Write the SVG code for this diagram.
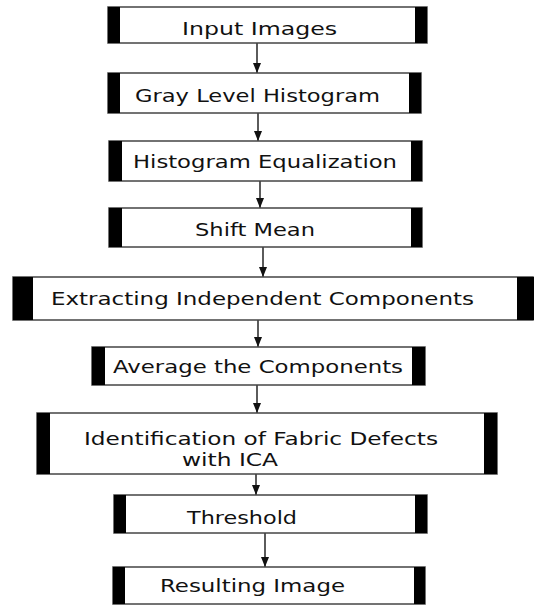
<svg xmlns="http://www.w3.org/2000/svg" width="535" height="606" viewBox="0 0 535 606">
<defs>
<style>
.box{fill:#fff;stroke:#444;stroke-width:1.5}
.bar{fill:#000}
.t{font-family:"DejaVu Sans",Verdana,sans-serif;font-size:17px;fill:#111}
.ln{stroke:#333;stroke-width:1.6;fill:none}
</style>
<marker id="ah" viewBox="0 0 10 8" refX="10" refY="4" markerWidth="10" markerHeight="8" markerUnits="userSpaceOnUse" orient="auto">
<path d="M0,0 L10,4 L0,8 Z" fill="#111"/>
</marker>
</defs>
<rect width="535" height="606" fill="#fff"/>
<g id="connectors">
<line class="ln" x1="257" y1="43" x2="257" y2="73" marker-end="url(#ah)"/>
<line class="ln" x1="258" y1="113" x2="258" y2="141" marker-end="url(#ah)"/>
<line class="ln" x1="260" y1="181" x2="260" y2="208" marker-end="url(#ah)"/>
<line class="ln" x1="263" y1="247" x2="263" y2="277" marker-end="url(#ah)"/>
<line class="ln" x1="258" y1="320" x2="258" y2="347" marker-end="url(#ah)"/>
<line class="ln" x1="257" y1="385" x2="257" y2="413" marker-end="url(#ah)"/>
<line class="ln" x1="256" y1="474" x2="256" y2="495" marker-end="url(#ah)"/>
<line class="ln" x1="265" y1="533" x2="265" y2="567" marker-end="url(#ah)"/>
</g>
<g id="n1">
<rect class="box" x="108" y="7" width="319" height="36"/>
<rect class="bar" x="108" y="7" width="12" height="36"/>
<rect class="bar" x="415" y="7" width="12" height="36"/>
<text class="t" x="182" y="35" textLength="155" lengthAdjust="spacingAndGlyphs">Input Images</text>
</g>
<g id="n2">
<rect class="box" x="108" y="73" width="313" height="40"/>
<rect class="bar" x="108" y="73" width="12" height="40"/>
<rect class="bar" x="409" y="73" width="12" height="40"/>
<text class="t" x="135" y="102" textLength="245" lengthAdjust="spacingAndGlyphs">Gray Level Histogram</text>
</g>
<g id="n3">
<rect class="box" x="109" y="141" width="313" height="40"/>
<rect class="bar" x="109" y="141" width="13" height="40"/>
<rect class="bar" x="411" y="141" width="11" height="40"/>
<text class="t" x="133" y="168" textLength="264" lengthAdjust="spacingAndGlyphs">Histogram Equalization</text>
</g>
<g id="n4">
<rect class="box" x="109" y="208" width="313" height="39"/>
<rect class="bar" x="109" y="208" width="13" height="39"/>
<rect class="bar" x="411" y="208" width="11" height="39"/>
<text class="t" x="195" y="236" textLength="120" lengthAdjust="spacingAndGlyphs">Shift Mean</text>
</g>
<g id="n5">
<rect class="box" x="13" y="277" width="520" height="43"/>
<rect class="bar" x="13" y="277" width="20" height="43"/>
<rect class="bar" x="517" y="277" width="17" height="43"/>
<text class="t" x="51" y="305" textLength="423" lengthAdjust="spacingAndGlyphs">Extracting Independent Components</text>
</g>
<g id="n6">
<rect class="box" x="92" y="347" width="333" height="38"/>
<rect class="bar" x="92" y="347" width="13" height="38"/>
<rect class="bar" x="412" y="347" width="13" height="38"/>
<text class="t" x="113" y="373" textLength="290" lengthAdjust="spacingAndGlyphs">Average the Components</text>
</g>
<g id="n7">
<rect class="box" x="37" y="413" width="460" height="61"/>
<rect class="bar" x="37" y="413" width="13" height="61"/>
<rect class="bar" x="484" y="413" width="13" height="61"/>
<text class="t" x="84" y="445" textLength="354" lengthAdjust="spacingAndGlyphs">Identification of Fabric Defects</text>
<text class="t" x="182" y="466" textLength="96" lengthAdjust="spacingAndGlyphs">with ICA</text>
</g>
<g id="n8">
<rect class="box" x="114" y="495" width="313" height="38"/>
<rect class="bar" x="114" y="495" width="12" height="38"/>
<rect class="bar" x="415" y="495" width="12" height="38"/>
<text class="t" x="187" y="524" textLength="110" lengthAdjust="spacingAndGlyphs">Threshold</text>
</g>
<g id="n9">
<rect class="box" x="113" y="567" width="312" height="37"/>
<rect class="bar" x="113" y="567" width="12" height="37"/>
<rect class="bar" x="414" y="567" width="11" height="37"/>
<text class="t" x="160" y="592" textLength="185" lengthAdjust="spacingAndGlyphs">Resulting Image</text>
</g>
</svg>
